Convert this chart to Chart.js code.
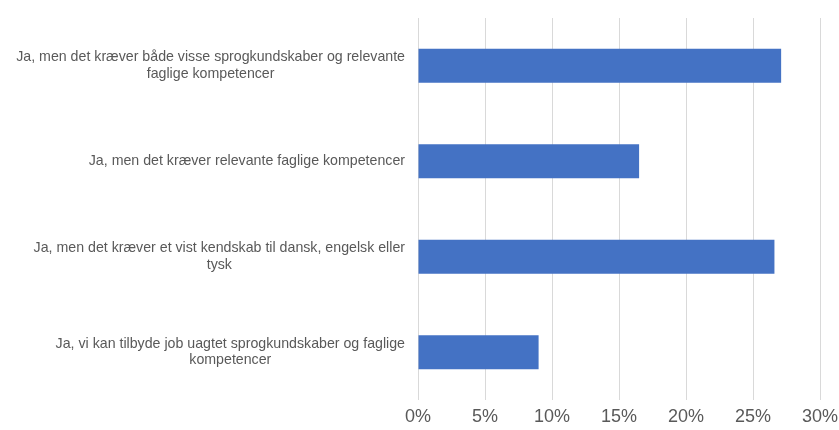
<!DOCTYPE html>
<html>
<head>
<meta charset="utf-8">
<script src="https://cdn.jsdelivr.net/npm/chart.js@4"></script>
<style>
  html, body { margin: 0; padding: 0; background: #fff; }
  #wrap { width: 839px; height: 430px; }
</style>
</head>
<body>
<div id="wrap"><canvas id="chart"></canvas></div>
<script>
// Kategorier (linjeskift som i originalen)
const categories = [
    ['Ja, men det kræver både visse sprogkundskaber og relevante', 'faglige kompetencer'],
    ['Ja, men det kræver relevante faglige kompetencer'],
    ['Ja, men det kræver et vist kendskab til dansk, engelsk eller', 'tysk'],
    ['Ja, vi kan tilbyde job uagtet sprogkundskaber og faglige', 'kompetencer']
];
const values = [27.1, 16.5, 26.6, 9.0];
const xTicks = [0, 5, 10, 15, 20, 25, 30];

const labelFont = '14.2px "Liberation Sans", Arial, sans-serif';

// Tegner y-aksens etiketter: hver blok højrejusteret, linjerne centreret i blokken
const categoryLabels = {
    id: 'categoryLabels',
    afterDraw(chart) {
        const ctx = chart.ctx;
        const yScale = chart.scales.y;
        const rightEdge = chart.chartArea.left - 13;
        const lineH = 16.6;
        ctx.save();
        ctx.font = labelFont;
        ctx.fillStyle = '#595959';
        ctx.textAlign = 'center';
        ctx.textBaseline = 'middle';
        categories.forEach((lines, i) => {
            const w = Math.max(...lines.map(l => ctx.measureText(l).width));
            const cx = rightEdge - w / 2;
            const cy = yScale.getPixelForValue(i);
            lines.forEach((l, j) => {
                ctx.fillText(l, cx, cy + (j - (lines.length - 1) / 2) * lineH);
            });
        });
        ctx.restore();
    }
};

new Chart(document.getElementById('chart').getContext('2d'), {
    type: 'bar',
    data: {
        labels: categories,
        datasets: [{
            data: values,
            backgroundColor: '#4472C4',
            borderWidth: 0,
            categoryPercentage: 1,
            barPercentage: 0.356
        }]
    },
    options: {
        indexAxis: 'y',
        responsive: true,
        maintainAspectRatio: false,
        animation: false,
        layout: { padding: { top: 18, right: 19, left: 0, bottom: 0 } },
        plugins: { legend: { display: false }, tooltip: { enabled: false } },
        scales: {
            x: {
                min: 0,
                max: 30,
                afterBuildTicks: (axis) => { axis.ticks = xTicks.map(v => ({ value: v })); },
                ticks: {
                    callback: v => v + '%',
                    color: '#595959',
                    font: { family: '"Liberation Sans", Arial, sans-serif', size: 18 },
                    padding: 6,
                    maxRotation: 0
                },
                grid: { color: '#d9d9d9', lineWidth: 1, drawTicks: false },
                border: { display: false },
                afterFit: (axis) => {
                    axis.height = 30;
                    axis.paddingLeft = 0;
                    axis.paddingRight = 0;
                }
            },
            y: {
                ticks: { display: false },
                grid: { display: false },
                border: { display: false },
                afterFit: (axis) => { axis.width = 418; }
            }
        }
    },
    plugins: [categoryLabels]
});
</script>
</body>
</html>
